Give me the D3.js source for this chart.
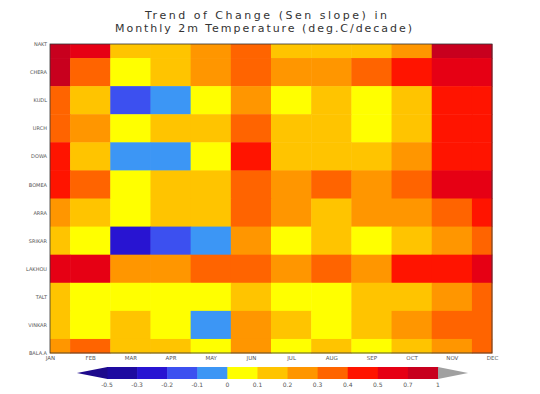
<!DOCTYPE html>
<html>
<head>
<meta charset="utf-8">
<script src="https://cdn.jsdelivr.net/npm/d3@7"></script>
<style>
  html, body { margin: 0; padding: 0; background: #fff; }
  svg { display: block; }
</style>
</head>
<body>
<div id="chart"></div>
<script>
// months along x, stations down y (top to bottom)
const months = ['JAN', 'FEB', 'MAR', 'APR', 'MAY', 'JUN', 'JUL', 'AUG', 'SEP', 'OCT', 'NOV', 'DEC'];
const stations = ['NAKT', 'CHERA', 'KUDL', 'URCH', 'DOWA', 'BOMEA', 'ARRA', 'SRIKAR', 'LAKHOU', 'TALT', 'VINKAR', 'BALA.A'];

// contour levels of the colour bar and the shade for each interval
const levels = [-0.5, -0.3, -0.2, -0.1, 0, 0.1, 0.2, 0.3, 0.4, 0.5, 0.7, 1];
const levelLabels = ['-0.5', '-0.3', '-0.2', '-0.1', '0', '0.1', '0.2', '0.3', '0.4', '0.5', '0.7', '1'];
const shades = ['#1e0a8c', '#1e0aa0', '#2814d2', '#3c50f0', '#3c96f5', '#ffff00', '#ffc400',
                '#ff9600', '#ff6400', '#ff1400', '#e60014', '#c8001e', '#a0a0a0'];

// Sen slope (deg.C/decade), one row per station, Jan..Dec
const trend = [
  [0.82, 0.62, 0.16, 0.14, 0.25, 0.34, 0.15, 0.17, 0.13, 0.27, 0.78, 0.88],
  [0.76, 0.36, 0.07, 0.15, 0.24, 0.35, 0.26, 0.23, 0.33, 0.46, 0.64, 0.68],
  [0.33, 0.14, -0.16, -0.06, 0.08, 0.27, 0.06, 0.16, 0.05, 0.18, 0.45, 0.47],
  [0.35, 0.22, 0.04, 0.13, 0.17, 0.37, 0.14, 0.12, 0.08, 0.19, 0.44, 0.48],
  [0.43, 0.15, -0.04, -0.07, 0.06, 0.42, 0.16, 0.13, 0.18, 0.24, 0.46, 0.43],
  [0.41, 0.32, 0.09, 0.12, 0.19, 0.34, 0.25, 0.31, 0.28, 0.38, 0.58, 0.66],
  [0.26, 0.17, 0.05, 0.14, 0.11, 0.36, 0.22, 0.15, 0.21, 0.29, 0.35, 0.44],
  [0.13, 0.07, -0.27, -0.14, -0.05, 0.23, 0.04, 0.16, 0.07, 0.12, 0.26, 0.33],
  [0.56, 0.61, 0.28, 0.24, 0.37, 0.33, 0.27, 0.36, 0.22, 0.47, 0.43, 0.55],
  [0.18, 0.06, 0.03, 0.08, 0.05, 0.14, 0.09, 0.04, 0.17, 0.11, 0.25, 0.32],
  [0.15, 0.08, 0.13, 0.06, -0.08, 0.21, 0.19, 0.07, 0.14, 0.27, 0.34, 0.36],
  [0.23, 0.31, 0.12, 0.16, 0.09, 0.26, 0.05, 0.18, 0.06, 0.15, 0.28, 0.34]
];

const width = 540, height = 394;
const plot = {left: 50, right: 492, top: 44, bottom: 353};

const svg = d3.select('#chart').append('svg')
  .attr('width', width)
  .attr('height', height);

const x = d3.scaleLinear().domain([0, months.length - 1]).range([plot.left, plot.right]);
const y = d3.scaleLinear().domain([0, stations.length - 1]).range([plot.top, plot.bottom]);
const color = d3.scaleThreshold().domain(levels).range(shades);

// cells are centred on grid points, half cells at the edges
const cells = [];
trend.forEach((row, r) => row.forEach((v, c) => cells.push({r, c, v})));

const clampX = v => Math.max(plot.left, Math.min(plot.right, v));
const clampY = v => Math.max(plot.top, Math.min(plot.bottom, v));

svg.append('g')
  .selectAll('rect')
  .data(cells)
  .enter().append('rect')
  .attr('x', d => clampX(x(d.c - 0.5)))
  .attr('y', d => clampY(y(d.r - 0.5)))
  .attr('width', d => clampX(x(d.c + 0.5)) - clampX(x(d.c - 0.5)) + 0.5)
  .attr('height', d => clampY(y(d.r + 0.5)) - clampY(y(d.r - 0.5)) + 0.5)
  .attr('fill', d => color(d.v));

// frame
svg.append('rect')
  .attr('x', plot.left)
  .attr('y', plot.top)
  .attr('width', plot.right - plot.left)
  .attr('height', plot.bottom - plot.top)
  .attr('fill', 'none')
  .attr('stroke', '#333')
  .attr('stroke-width', 0.8);

// axes
const xAxis = d3.axisBottom(x)
  .tickValues(d3.range(months.length))
  .tickSize(0)
  .tickPadding(3)
  .tickFormat(i => months[i]);

svg.append('g')
  .attr('transform', 'translate(0,' + plot.bottom + ')')
  .call(xAxis)
  .call(g => g.select('.domain').remove())
  .selectAll('text')
    .attr('font-family', 'DejaVu Sans')
    .attr('font-size', '5.5px')
    .attr('fill', '#555');

const yAxis = d3.axisLeft(y)
  .tickValues(d3.range(stations.length))
  .tickSize(0)
  .tickPadding(3)
  .tickFormat(i => stations[i]);

svg.append('g')
  .attr('transform', 'translate(' + plot.left + ',0)')
  .call(yAxis)
  .call(g => g.select('.domain').remove())
  .selectAll('text')
    .attr('font-family', 'DejaVu Sans')
    .attr('font-size', '5px')
    .attr('fill', '#555');

// title
svg.append('text')
  .attr('x', 145)
  .attr('y', 19)
  .attr('textLength', 242)
  .attr('lengthAdjust', 'spacing')
  .attr('font-family', 'DejaVu Sans')
  .attr('font-size', '11px')
  .attr('fill', '#333')
  .text('Trend of Change (Sen slope) in');

svg.append('text')
  .attr('x', 115)
  .attr('y', 32)
  .attr('textLength', 297)
  .attr('lengthAdjust', 'spacing')
  .attr('font-family', 'DejaVu Sans')
  .attr('font-size', '11px')
  .attr('fill', '#333')
  .text('Monthly 2m Temperature (deg.C/decade)');

// colour bar
const cb = d3.scaleLinear().domain([0, levels.length - 1]).range([107, 438]);
const cbTop = 367, cbBottom = 379, cbMid = (cbTop + cbBottom) / 2;
const bar = svg.append('g');

bar.selectAll('rect')
  .data(d3.range(levels.length - 1))
  .enter().append('rect')
  .attr('x', i => cb(i))
  .attr('y', cbTop)
  .attr('width', i => cb(i + 1) - cb(i) + 0.5)
  .attr('height', cbBottom - cbTop)
  .attr('fill', i => shades[i + 1]);

bar.append('path')
  .attr('d', `M${cb(0) + 0.5},${cbTop}L${cb(-1)},${cbMid}L${cb(0) + 0.5},${cbBottom}Z`)
  .attr('fill', shades[0]);

bar.append('path')
  .attr('d', `M${cb(levels.length - 1)},${cbTop}L${cb(levels.length)},${cbMid}L${cb(levels.length - 1)},${cbBottom}Z`)
  .attr('fill', shades[shades.length - 1]);

bar.selectAll('text')
  .data(levelLabels)
  .enter().append('text')
  .attr('x', (d, i) => cb(i))
  .attr('y', 387)
  .attr('text-anchor', 'middle')
  .attr('font-family', 'DejaVu Sans')
  .attr('font-size', '6px')
  .attr('fill', '#555')
  .text(d => d);
</script>
</body>
</html>
